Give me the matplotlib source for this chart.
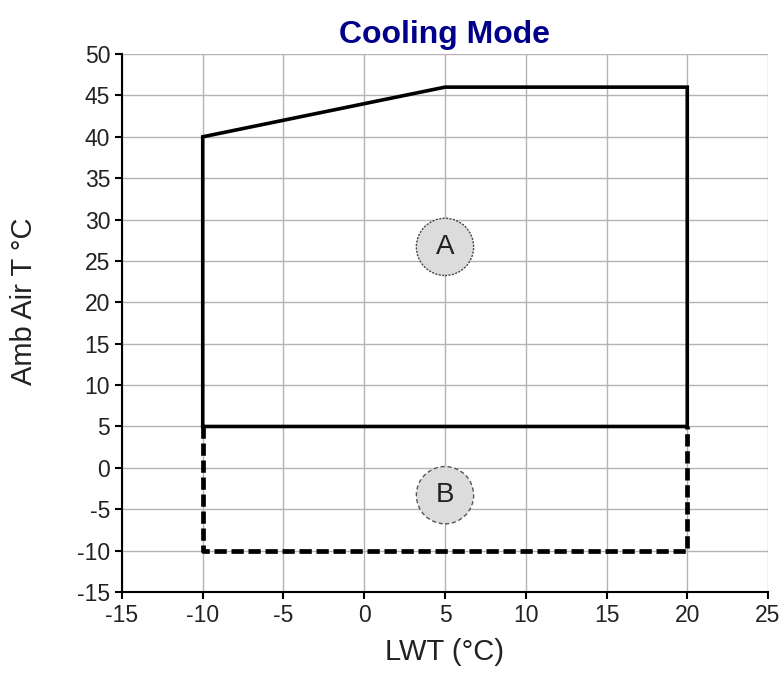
import matplotlib.pyplot as plt

# operating envelope, cooling mode
zone_a_lwt = [-10, -10, 5, 20, 20, -10]
zone_a_air = [5, 40, 46, 46, 5, 5]
zone_b_lwt = [-10, -10, 20, 20]
zone_b_air = [5, -10, -10, 5]

labels = ["A", "B"]
label_lwt = [5, 5]
label_air = [26.7, -3.3]

xticks = list(range(-15, 30, 5))
yticks = list(range(-15, 55, 5))

plt.rcParams['font.family'] = ['Liberation Sans', 'DejaVu Sans']
plt.rcParams['axes.unicode_minus'] = False

fig = plt.figure(figsize=(7.84, 6.9), dpi=100)
ax = fig.add_axes([0.1556, 0.142, 0.824, 0.7797])

ax.plot(zone_a_lwt, zone_a_air, color='black', lw=2.6, solid_joinstyle='miter', zorder=3)
ax.plot(zone_b_lwt, zone_b_air, color='black', lw=3.4, ls=(0, (2.6, 1.0)), zorder=3)

ax.scatter(label_lwt[:1], label_air[:1], s=1700, facecolor='#dcdcdc', edgecolor='#444444',
           linewidths=1.0, linestyles=(0, (1.5, 1.0)), zorder=4)
ax.scatter(label_lwt[1:], label_air[1:], s=1700, facecolor='#dcdcdc', edgecolor='#555555',
           linewidths=1.0, linestyles=(0, (3, 2)), zorder=4)
for t, x, y in zip(labels, label_lwt, label_air):
    ax.text(x, y, t, ha='center', va='center', fontsize=20, color='#222222', zorder=5)

ax.set_xlim(-15, 25)
ax.set_ylim(-15, 50)
ax.set_xticks(xticks)
ax.set_yticks(yticks)
ax.grid(True, color='#b4b4b4', lw=1.0)
ax.set_axisbelow(True)
for s in ['top', 'right']:
    ax.spines[s].set_visible(False)
for s in ['left', 'bottom']:
    ax.spines[s].set_linewidth(1.5)
ax.tick_params(direction='out', length=5, width=1.5, labelsize=16.5, labelcolor='#222222')

ax.set_title("Cooling Mode", fontsize=23, fontweight='bold', color='#00008b', pad=8)
ax.set_xlabel("LWT (°C)", fontsize=21, color='#222222', labelpad=8)
ax.set_ylabel("Amb Air T °C", fontsize=21, color='#222222')
ax.yaxis.set_label_coords(-0.13, 0.54)

fig.savefig("out.png", dpi=100)
